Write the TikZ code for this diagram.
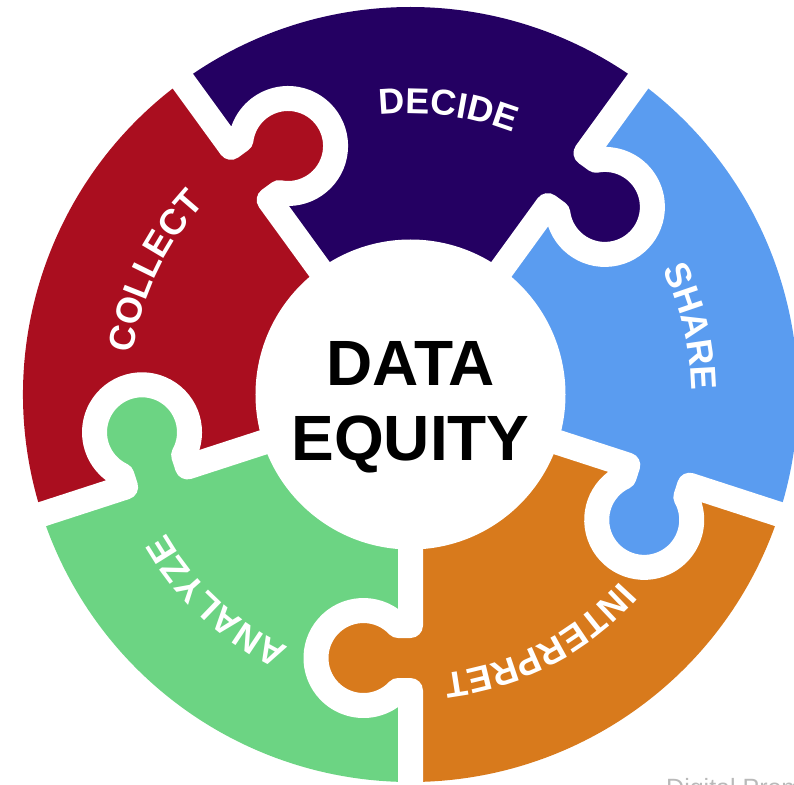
\documentclass[tikz,border=0pt]{standalone}
\usepackage{fontspec}
\setmainfont{Liberation Sans}
\usetikzlibrary{decorations.text}
\definecolor{collectred}{RGB}{170,14,31}
\definecolor{decidepurple}{RGB}{36,0,98}
\definecolor{shareblue}{RGB}{90,156,240}
\definecolor{interpretorange}{RGB}{216,122,28}
\definecolor{analyzegreen}{RGB}{108,212,131}
\definecolor{creditgray}{RGB}{185,185,185}
\begin{document}
\begin{tikzpicture}
[x=1pt,y=1pt,
  gapline/.style={draw=white,line width=25pt,line join=round},%
  centertext/.style={anchor=base,inner sep=0pt,font=\bfseries\fontsize{64}{64}\selectfont},%
  piecelabel/.style={decorate,decoration={text along path,text align=center,
    text={|\color{white}\bfseries\fontsize{36}{36}\selectfont|#1}}}]
%%% frame
\useasboundingbox (-410.5,-389.5) rectangle (383.5,394.5);
\clip (-410.5,-389.5) rectangle (383.5,394.5);
%
%%% pieces
% sectors
\fill[collectred] (0,0) -- (126:387.5) arc[start angle=126,end angle=198,radius=387.5] -- cycle;
\fill[decidepurple] (0,0) -- (54:387.5) arc[start angle=54,end angle=126,radius=387.5] -- cycle;
\fill[shareblue] (0,0) -- (-18:387.5) arc[start angle=-18,end angle=54,radius=387.5] -- cycle;
\fill[interpretorange] (0,0) -- (270:387.5) arc[start angle=270,end angle=342,radius=387.5] -- cycle;
\fill[analyzegreen] (0,0) -- (198:387.5) arc[start angle=198,end angle=270,radius=387.5] -- cycle;
% knobs and gaps
\begin{scope}[rotate=126]
\fill[collectred] (240.5,13) -- (240.5,-12.4) arc[start angle=133.2,end angle=406.8,radius=47.5] -- (305.5,13) -- cycle;
\draw[gapline] (140,0) -- (240.5,0) -- (240.5,-12.4) arc[start angle=133.2,end angle=406.8,radius=47.5] -- (305.5,0) -- (400,0);
\end{scope}
\begin{scope}[rotate=54]
\fill[decidepurple] (233.5,13) -- (233.5,-12.4) arc[start angle=133.2,end angle=406.8,radius=47.5] -- (298.5,13) -- cycle;
\draw[gapline] (140,0) -- (233.5,0) -- (233.5,-12.4) arc[start angle=133.2,end angle=406.8,radius=47.5] -- (298.5,0) -- (400,0);
\end{scope}
\begin{scope}[rotate=-18]
\fill[shareblue] (228.5,13) -- (228.5,-12.4) arc[start angle=133.2,end angle=406.8,radius=47.5] -- (293.5,13) -- cycle;
\draw[gapline] (140,0) -- (228.5,0) -- (228.5,-12.4) arc[start angle=133.2,end angle=406.8,radius=47.5] -- (293.5,0) -- (400,0);
\end{scope}
\begin{scope}[rotate=270]
\fill[interpretorange] (231,13) -- (231,-12.4) arc[start angle=133.2,end angle=406.8,radius=47.5] -- (296,13) -- cycle;
\draw[gapline] (140,0) -- (231,0) -- (231,-12.4) arc[start angle=133.2,end angle=406.8,radius=47.5] -- (296,0) -- (400,0);
\end{scope}
\begin{scope}[rotate=198]
\fill[analyzegreen] (234.5,13) -- (234.5,-12.4) arc[start angle=133.2,end angle=406.8,radius=47.5] -- (299.5,13) -- cycle;
\draw[gapline] (140,0) -- (234.5,0) -- (234.5,-12.4) arc[start angle=133.2,end angle=406.8,radius=47.5] -- (299.5,0) -- (400,0);
\end{scope}
% labels
\path[piecelabel=COLLECT] (179.3:281) arc[start angle=179.3,end angle=129.3,radius=281];
\path[piecelabel=DECIDE] (107.5:281) arc[start angle=107.5,end angle=57.5,radius=281];
\path[piecelabel=SHARE] (38.6:281) arc[start angle=38.6,end angle=-11.4,radius=281];
\path[piecelabel=INTERPRET] (-37.5:281) arc[start angle=-37.5,end angle=-87.5,radius=281];
\path[piecelabel=ANALYZE] (251.9:281) arc[start angle=251.9,end angle=201.9,radius=281];
%
%%% centre
\fill[white] (0,0) circle[radius=155];
\node[centertext] (data) at (0,9.5) {DATA};
\node[centertext] (equity) at (0,-66.2) {EQUITY};
%
%%% credit
\node[anchor=base west,inner sep=0pt,text=creditgray,font=\fontsize{25}{25}\selectfont] (credit) at (255.5,-402.4) {Digital Promise};
\end{tikzpicture}
\end{document}
